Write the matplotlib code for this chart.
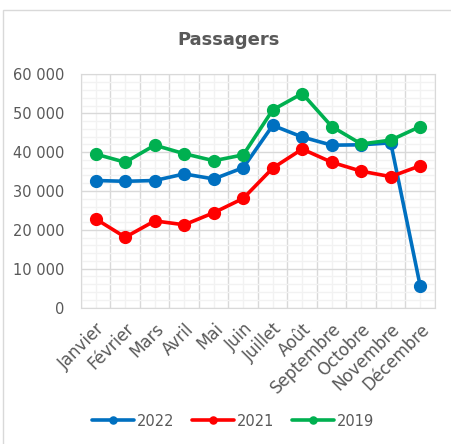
import numpy as np
import matplotlib.pyplot as plt
from matplotlib.ticker import MultipleLocator, FuncFormatter
from matplotlib.patches import Rectangle

mois = ["Janvier", "Février", "Mars", "Avril", "Mai", "Juin", "Juillet",
        "Août", "Septembre", "Octobre", "Novembre", "Décembre"]
p2022 = [32700, 32500, 32700, 34400, 33100, 36000, 46900, 43900, 41800, 41900, 42400, 5500]
p2021 = [22800, 18100, 22300, 21300, 24400, 28100, 35900, 40800, 37400, 35100, 33700, 36500]
p2019 = [39500, 37400, 41800, 39600, 37800, 39300, 50900, 55100, 46600, 42100, 43100, 46600]

gris = "#595959"
plt.rcParams['font.family'] = ['DejaVu Sans']

fig = plt.figure(figsize=(4.52, 4.44), dpi=100)
fig.patches.append(Rectangle((3.5 / 452, -0.1), 1.2, 1 - 10.5 / 444 + 0.1,
                             transform=fig.transFigure, fill=False,
                             edgecolor="#D9D9D9", linewidth=1))
ax = fig.add_axes([81 / 452, 1 - 307.5 / 444, 354 / 452, 233 / 444])

x = np.arange(len(mois))
series = [(p2022, "2022", "#0070C0"), (p2021, "2021", "#FF0000"), (p2019, "2019", "#00B050")]
for vals, lab, col in series:
    ax.plot(x, vals, color=col, lw=2.6, marker="o", ms=8.5, label=lab,
            solid_capstyle="round", solid_joinstyle="round")

ax.set_xlim(-0.5, 11.5)
ax.set_ylim(0, 60000)
ax.set_xticks(x)
ax.set_xticklabels(mois, rotation=45, ha="right", rotation_mode="anchor",
                   color=gris, fontsize=12)
ax.set_xticks(np.arange(-0.5, 12, 1), minor=True)
ax.yaxis.set_major_locator(MultipleLocator(10000))
ax.yaxis.set_minor_locator(MultipleLocator(2000))
ax.yaxis.set_major_formatter(FuncFormatter(lambda v, p: f"{int(v):,}".replace(",", " ")))
ax.tick_params(axis="y", colors=gris, labelsize=10.5, length=0, which="both", pad=12)
ax.tick_params(axis="x", length=0, which="both", pad=9)

ax.grid(True, axis="y", which="major", color="#D9D9D9", lw=1)
ax.grid(True, axis="y", which="minor", color="#F2F2F2", lw=1)
ax.grid(True, axis="x", which="minor", color="#D9D9D9", lw=1)
ax.grid(True, axis="x", which="major", color="#F2F2F2", lw=1)
ax.set_axisbelow(True)
for s in ax.spines.values():
    s.set_color("#D9D9D9")

fig.text(229 / 452, 1 - 40 / 444, "Passagers", ha="center", va="center",
         fontsize=13, fontweight="bold", color=gris)

leg = fig.legend(loc="center", bbox_to_anchor=(233 / 452, 1 - 421 / 444), ncol=3,
                 frameon=False, fontsize=10.5, handlelength=2.9, columnspacing=1.2,
                 handletextpad=0.2, markerscale=0.6)
for t in leg.get_texts():
    t.set_color(gris)

fig.savefig("out.png", dpi=100)
